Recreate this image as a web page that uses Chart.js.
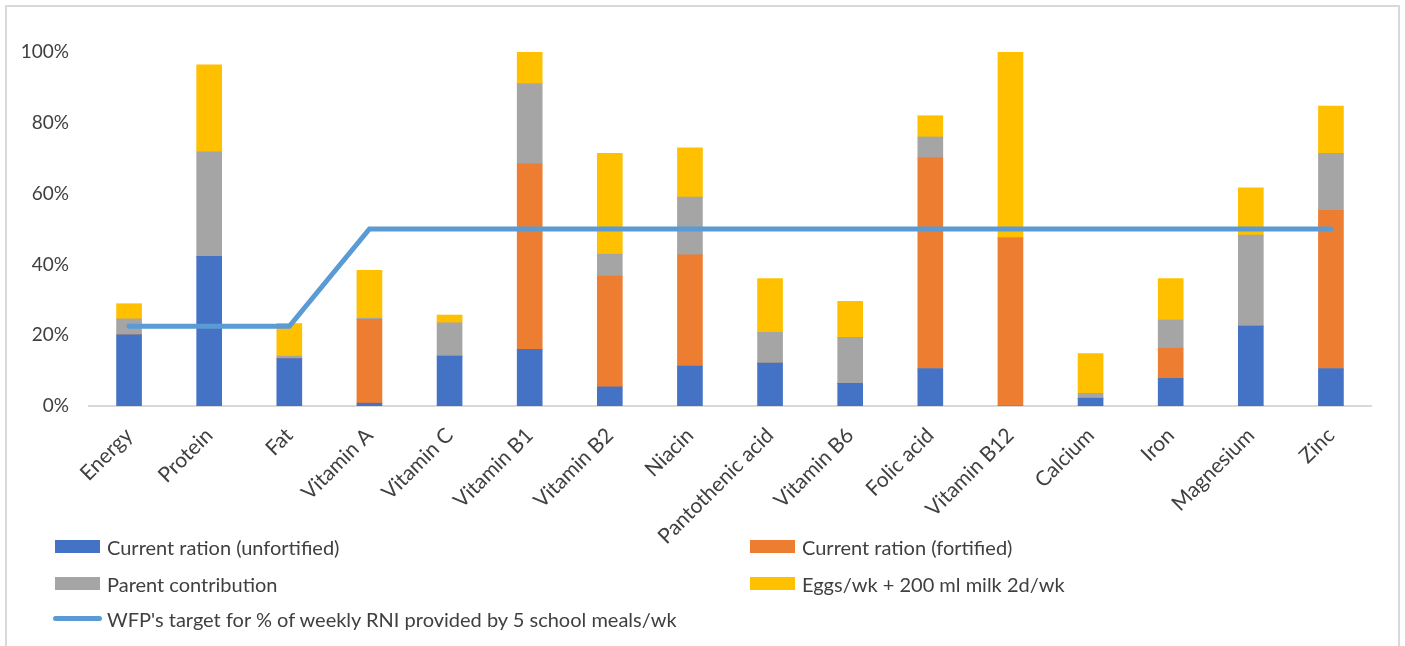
<!DOCTYPE html>
<html>
<head>
<meta charset="utf-8">
<script src="https://cdn.jsdelivr.net/npm/chart.js@4.4.1/dist/chart.umd.min.js"></script>
<style>
    body { margin: 0; background: #fff; font-family: Lato, sans-serif; }
    .frame { position: absolute; left: 5px; top: 5px; width: 1391px; height: 660px; border: 2px solid #d9d9d9; }
    #wrap { position: absolute; left: 0; top: 0; width: 1405px; height: 560px; }
    .legend-item { position: absolute; height: 24px; font-size: 20px; color: #404040; white-space: nowrap; }
    .legend-item .box { position: absolute; left: 0; top: 5px; width: 45px; height: 13px; }
    .legend-item .stroke { position: absolute; left: -2px; top: 9px; width: 49px; height: 5px; border-radius: 3px; }
    .legend-item span { position: absolute; left: 52px; top: 0; line-height: 24px; }
</style>
</head>
<body>
<div class="frame"></div>
<div id="wrap"><canvas id="nutrientChart" width="1405" height="560"></canvas></div>
<div id="legend"></div>

<script>
const categories = ['Energy', 'Protein', 'Fat', 'Vitamin A', 'Vitamin C', 'Vitamin B1', 'Vitamin B2', 'Niacin',
    'Pantothenic acid', 'Vitamin B6', 'Folic acid', 'Vitamin B12', 'Calcium', 'Iron', 'Magnesium', 'Zinc']

const unfortified = [20.1, 42.3, 13.4, 0.8, 14.1, 16.0, 5.4, 11.3, 12.1, 6.4, 10.6, 0, 2.2, 7.8, 22.6, 10.6]
const fortified   = [0, 0, 0, 23.7, 0, 52.4, 31.3, 31.4, 0, 0, 59.5, 47.5, 0, 8.5, 0, 44.7]
const parent      = [4.5, 29.5, 0.7, 0.3, 9.4, 22.7, 6.2, 16.3, 8.7, 13.0, 5.9, 0, 1.4, 8.0, 25.7, 16.1]
const eggsMilk    = [4.3, 24.6, 9.2, 13.5, 2.2, 8.9, 28.5, 13.9, 15.2, 10.2, 6.0, 52.5, 11.2, 11.7, 13.3, 13.3]
const wfpTarget   = [22.5, 22.5, 22.5, 50, 50, 50, 50, 50, 50, 50, 50, 50, 50, 50, 50, 50]

const yTicks = [0, 20, 40, 60, 80, 100]

const ctx = document.getElementById('nutrientChart').getContext('2d')

const chart = new Chart(ctx, {
    data: {
        labels: categories,
        datasets: [
            { type: 'bar', label: 'Current ration (unfortified)', data: unfortified, backgroundColor: '#4472C4', stack: 'bars', order: 1 },
            { type: 'bar', label: 'Current ration (fortified)', data: fortified, backgroundColor: '#ED7D31', stack: 'bars', order: 1 },
            { type: 'bar', label: 'Parent contribution', data: parent, backgroundColor: '#A5A5A5', stack: 'bars', order: 1 },
            { type: 'bar', label: 'Eggs/wk + 200 ml milk 2d/wk', data: eggsMilk, backgroundColor: '#FFC000', stack: 'bars', order: 1 },
            {
                type: 'line',
                label: "WFP's target for % of weekly RNI provided by 5 school meals/wk",
                data: wfpTarget,
                borderColor: '#5B9BD5',
                borderWidth: 5,
                borderCapStyle: 'round',
                borderJoinStyle: 'miter',
                pointRadius: 0,
                tension: 0,
                fill: false,
                stack: 'target',
                order: 0
            }
        ]
    },
    options: {
        responsive: false,
        animation: false,
        devicePixelRatio: 1,
        layout: { padding: { top: 52, right: 34, bottom: 14, left: 0 } },
        datasets: { bar: { barThickness: 25 } },
        plugins: {
            legend: { display: false },
            tooltip: { enabled: false }
        },
        scales: {
            x: {
                stacked: true,
                grid: { display: false, drawTicks: false },
                border: { display: true, color: '#d9d9d9', width: 2 },
                ticks: { color: '#404040', font: { family: 'Lato', size: 21 }, minRotation: 45, maxRotation: 45, padding: 17, autoSkip: false },
                afterFit: (scale) => { scale.height = 140 }
            },
            y: {
                stacked: true,
                min: 0,
                max: 100,
                grid: { display: false, drawTicks: false },
                border: { display: false },
                afterBuildTicks: (scale) => { scale.ticks = yTicks.map(v => ({ value: v })) },
                ticks: { color: '#404040', font: { family: 'Lato', size: 19 }, padding: 20, callback: (v) => v + '%' },
                afterFit: (scale) => { scale.width = 89 }
            }
        }
    }
})

// legend in two columns like the original
let legendBox = document.getElementById('legend')
let slots = [[55, 535], [750, 535], [55, 572], [750, 572], [55, 607]]

chart.data.datasets.forEach((ds, i) => {
    let item = document.createElement('div')
    item.className = 'legend-item'
    item.style.left = slots[i][0] + 'px'
    item.style.top = slots[i][1] + 'px'
    let mark = document.createElement('div')
    if (ds.type === 'line') {
        mark.className = 'stroke'
        mark.style.background = ds.borderColor
    } else {
        mark.className = 'box'
        mark.style.background = ds.backgroundColor
    }
    let text = document.createElement('span')
    text.textContent = ds.label
    item.appendChild(mark)
    item.appendChild(text)
    legendBox.appendChild(item)
})
</script>
</body>
</html>
